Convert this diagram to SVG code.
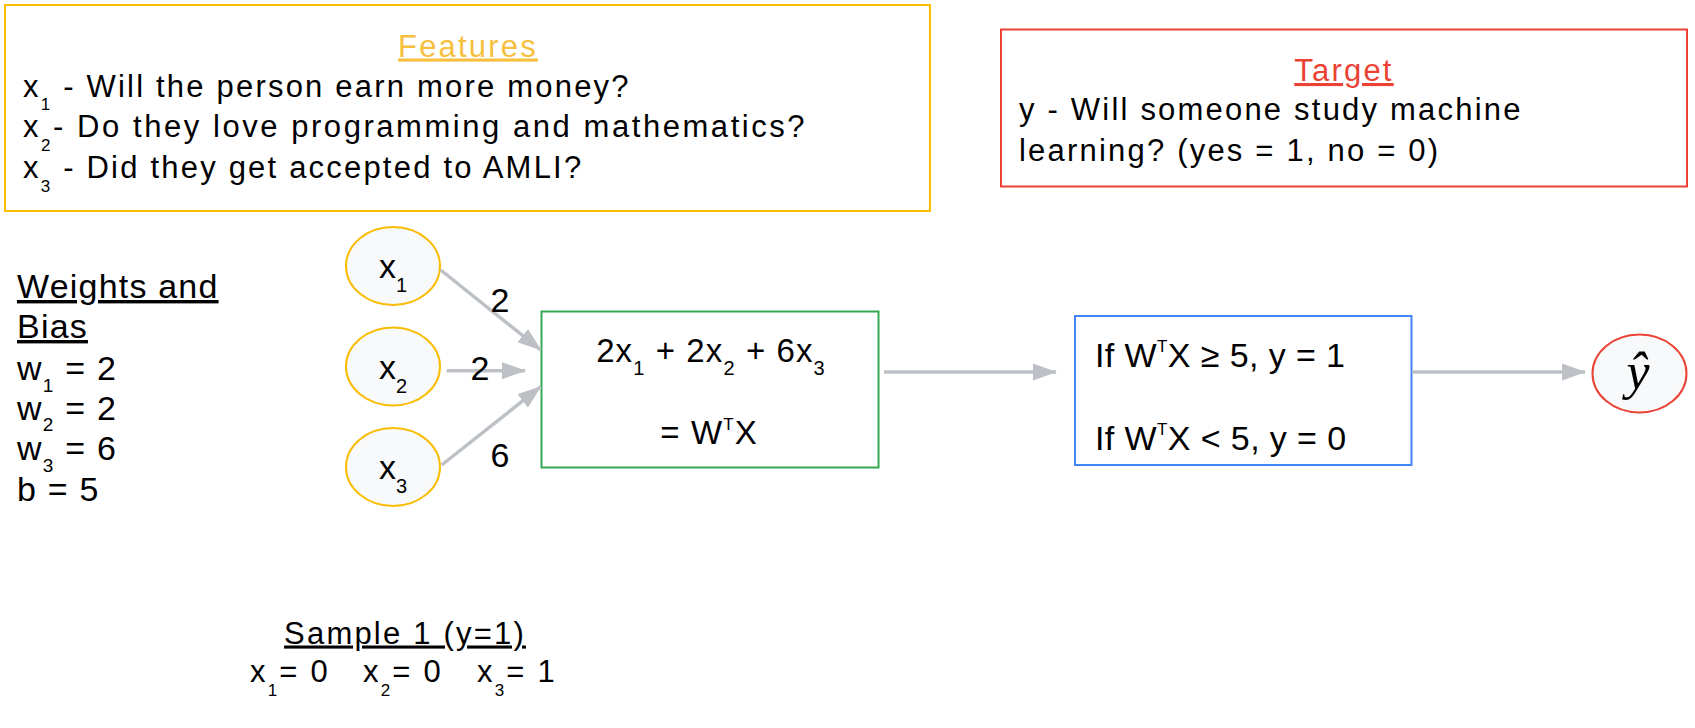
<svg xmlns="http://www.w3.org/2000/svg" width="1695" height="728" viewBox="0 0 1695 728">
<style>
text{font-family:"Liberation Sans",Arial,sans-serif;fill:#000}
.t31{font-size:31px;letter-spacing:2.2px}
.tw{font-size:34px;letter-spacing:1.2px}
.tn{font-size:34px}
.tg{font-size:33px;letter-spacing:1.1px}
.tb{font-size:34px;letter-spacing:0.4px}
.sub{font-size:17px}
.sub2{font-size:19px}
.sub3{font-size:20px}
.node{fill:#F8F9FA;stroke:#FBBC04;stroke-width:2}
.edge{stroke:#BDC1C6;stroke-width:3.5;fill:none}
</style>
<defs>
<marker id="ah" markerUnits="userSpaceOnUse" markerWidth="24" markerHeight="18" refX="23" refY="8.5" orient="auto">
<path d="M0,0 L24,8.5 L0,17 z" fill="#BDC1C6"/>
</marker>
</defs>
<rect width="1695" height="728" fill="#fff"/>

<g id="features">
<rect x="5" y="5" width="925" height="206" fill="none" stroke="#FBBC04" stroke-width="2"/>
<text class="t31" x="468" y="56.5" text-anchor="middle" style="fill:#F6BF3E" text-decoration="underline">Features</text>
<text class="t31" x="23" y="96.5">x<tspan class="sub" dy="13.5">1</tspan><tspan dy="-13.5"> - Will the person earn more money?</tspan></text>
<text class="t31" x="23" y="137" style="letter-spacing:2.55px">x<tspan class="sub" dy="13.5">2</tspan><tspan dy="-13.5">- Do they love programming and mathematics?</tspan></text>
<text class="t31" x="23" y="178">x<tspan class="sub" dy="13.5">3</tspan><tspan dy="-13.5"> - Did they get accepted to AMLI?</tspan></text>
</g>

<g id="target">
<rect x="1001" y="29.5" width="686" height="157" fill="none" stroke="#EA4335" stroke-width="2"/>
<text class="t31" x="1344" y="81" text-anchor="middle" style="fill:#EA4335" text-decoration="underline">Target</text>
<text class="t31" x="1019" y="120">y - Will someone study machine</text>
<text class="t31" x="1019" y="161">learning? (yes = 1, no = 0)</text>
</g>

<g id="weights">
<text class="tw" x="17" y="298" text-decoration="underline">Weights and</text>
<text class="tw" x="17" y="338" text-decoration="underline">Bias</text>
<text class="tw" x="17" y="380">w<tspan class="sub2" dy="11.5">1</tspan><tspan dy="-11.5"> = 2</tspan></text>
<text class="tw" x="17" y="419.5">w<tspan class="sub2" dy="11.5">2</tspan><tspan dy="-11.5"> = 2</tspan></text>
<text class="tw" x="17" y="460">w<tspan class="sub2" dy="11.5">3</tspan><tspan dy="-11.5"> = 6</tspan></text>
<text class="tw" x="17" y="500.5">b = 5</text>
</g>

<g id="x1">
<ellipse class="node" cx="393" cy="266" rx="47" ry="39"/>
<text class="tn" x="393" y="278" text-anchor="middle">x<tspan class="sub3" dy="14">1</tspan></text>
</g>
<g id="x2">
<ellipse class="node" cx="393" cy="366.5" rx="47" ry="39"/>
<text class="tn" x="393" y="378.5" text-anchor="middle">x<tspan class="sub3" dy="14">2</tspan></text>
</g>
<g id="x3">
<ellipse class="node" cx="393" cy="467" rx="47" ry="39"/>
<text class="tn" x="393" y="479" text-anchor="middle">x<tspan class="sub3" dy="14">3</tspan></text>
</g>

<g id="sum">
<rect x="541.5" y="311.5" width="337" height="156" fill="none" stroke="#34A853" stroke-width="2"/>
<text class="tg" x="711" y="362" text-anchor="middle">2x<tspan class="sub3" dy="13">1</tspan><tspan dy="-13"> + 2x</tspan><tspan class="sub3" dy="13">2</tspan><tspan dy="-13"> + 6x</tspan><tspan class="sub3" dy="13">3</tspan></text>
<text class="tg" x="709" y="443.5" text-anchor="middle">= W<tspan class="sub" dy="-14">T</tspan><tspan dy="14">X</tspan></text>
</g>

<g id="threshold">
<rect x="1075" y="316" width="336.5" height="149" fill="none" stroke="#4285F4" stroke-width="2"/>
<text class="tb" x="1095" y="367">If W<tspan class="sub" dy="-15">T</tspan><tspan dy="15">X ≥ 5, y = 1</tspan></text>
<text class="tb" x="1095" y="449.5">If W<tspan class="sub" dy="-15">T</tspan><tspan dy="15">X &lt; 5, y = 0</tspan></text>
</g>

<g id="yhat">
<ellipse cx="1639.5" cy="373.5" rx="47" ry="39" fill="#F8F9FA" stroke="#EA4335" stroke-width="2"/>
<text x="1638" y="389" text-anchor="middle" style="font-family:'Liberation Serif','DejaVu Serif',serif;font-style:italic;font-size:52px">ŷ</text>
</g>

<g id="sample">
<text class="t31" x="405" y="643.5" text-anchor="middle" text-decoration="underline">Sample 1 (y=1)</text>
<text class="t31" x="250" y="682">x<tspan class="sub" dy="14">1</tspan><tspan dy="-14">= 0</tspan></text>
<text class="t31" x="363" y="682">x<tspan class="sub" dy="14">2</tspan><tspan dy="-14">= 0</tspan></text>
<text class="t31" x="477" y="682">x<tspan class="sub" dy="14">3</tspan><tspan dy="-14">= 1</tspan></text>
</g>

<g id="connectors">
<line class="edge" x1="440.7" y1="270" x2="540.7" y2="350" marker-end="url(#ah)"/>
<line class="edge" x1="446.7" y1="370.7" x2="525" y2="370.7" marker-end="url(#ah)"/>
<line class="edge" x1="441.7" y1="465" x2="540.7" y2="386.7" marker-end="url(#ah)"/>
<line class="edge" x1="884" y1="372" x2="1056" y2="372" marker-end="url(#ah)"/>
<line class="edge" x1="1412" y1="372" x2="1585" y2="372" marker-end="url(#ah)"/>
<text class="tn" x="500" y="311.5" text-anchor="middle">2</text>
<text class="tn" x="480" y="380" text-anchor="middle">2</text>
<text class="tn" x="500" y="467" text-anchor="middle">6</text>
</g>
</svg>
